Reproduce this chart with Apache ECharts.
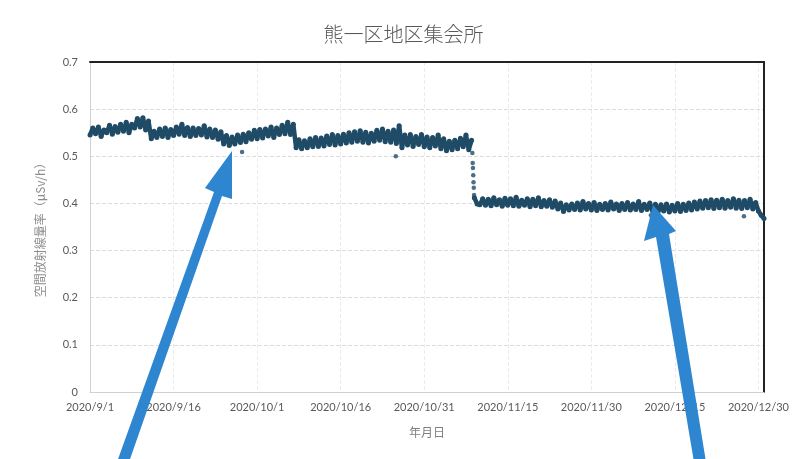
<!DOCTYPE html>
<html>
<head>
<meta charset="utf-8">
<script src="https://cdn.jsdelivr.net/npm/echarts@6/dist/echarts.min.js"></script>
<style>
html,body{margin:0;padding:0;background:#fff;}
#c{width:807px;height:459px;}
</style>
</head>
<body>
<div id="c"></div>
<script>
// ---- data (days since 2020/9/1, values in μSv/h) ----
const titleText = '熊一区地区集会所';
const yAxisName = '空間放射線量率（μSv/h）';
const xAxisName = '年月日';
const startDate = [2020, 9, 1];
const dayMax = 121;
const tickStepDays = 15;
const yTicks = [0, 0.1, 0.2, 0.3, 0.4, 0.5, 0.6, 0.7];

// before the drop: half-day samples starting at day 0
const preStart = 0;
const preValues = [
  0.545,0.560, 0.548,0.562, 0.542,0.556, 0.550,0.566, 0.547,0.563,
  0.551,0.568, 0.553,0.572, 0.550,0.568, 0.560,0.580, 0.562,0.582,
  0.556,0.575, 0.537,0.553, 0.540,0.558, 0.542,0.560, 0.540,0.557,
  0.544,0.562, 0.547,0.568, 0.544,0.561, 0.542,0.560, 0.544,0.559,
  0.545,0.565, 0.541,0.558, 0.540,0.556, 0.536,0.552, 0.526,0.544,
  0.523,0.541, 0.526,0.545, 0.529,0.547, 0.531,0.550, 0.536,0.555,
  0.537,0.557, 0.539,0.558, 0.543,0.562, 0.540,0.560, 0.546,0.566,
  0.548,0.572, 0.546,0.568, 0.518,0.535, 0.516,0.533, 0.518,0.537,
  0.520,0.540, 0.521,0.539, 0.522,0.543, 0.525,0.546, 0.524,0.544,
  0.526,0.547, 0.528,0.550, 0.530,0.552, 0.532,0.554, 0.530,0.551,
  0.528,0.549, 0.532,0.555, 0.534,0.558, 0.531,0.553, 0.530,0.556,
  0.527,0.565, 0.518,0.545, 0.524,0.546, 0.521,0.542, 0.525,0.546,
  0.520,0.541, 0.518,0.540, 0.522,0.545, 0.516,0.537, 0.512,0.532,
  0.514,0.534, 0.516,0.538, 0.520,0.545, 0.514,0.534
];

// the drop itself (individual readings)
const dropDays   = [68.65, 68.7, 68.75, 68.8, 68.85, 68.9, 68.95];
const dropValues = [0.507, 0.486, 0.475, 0.460, 0.445, 0.433, 0.418];

// after the drop: half-day samples starting at day 69
const postStart = 69;
const postValues = [
  0.412,0.399,
  0.397,0.410, 0.396,0.409, 0.395,0.412, 0.397,0.408, 0.394,0.411,
  0.396,0.410, 0.395,0.413, 0.394,0.407, 0.396,0.410, 0.393,0.409,
  0.395,0.412, 0.393,0.406, 0.394,0.408, 0.392,0.405, 0.388,0.401,
  0.383,0.397, 0.386,0.399, 0.387,0.401, 0.386,0.404, 0.388,0.400,
  0.386,0.402, 0.385,0.398, 0.387,0.400, 0.386,0.403, 0.388,0.399,
  0.385,0.400, 0.387,0.402, 0.386,0.399, 0.387,0.404, 0.385,0.398,
  0.387,0.401, 0.384,0.398, 0.383,0.397, 0.384,0.399, 0.382,0.396,
  0.384,0.400, 0.383,0.398, 0.385,0.401, 0.386,0.403, 0.388,0.405,
  0.390,0.406, 0.391,0.408, 0.389,0.407, 0.391,0.409, 0.390,0.406,
  0.392,0.410, 0.390,0.407, 0.389,0.406, 0.391,0.409, 0.388,0.402,
  0.384,0.375, 0.368
];

// isolated low readings
const outlierDays   = [27.3, 54.9, 100.7, 117.4];
const outlierValues = [0.509, 0.500, 0.375, 0.373];

// ---- build ----
function pairs(start, vals) {
  return vals.map((v, i) => [start + i * 0.5, v]);
}
function zip(xs, ys) { return xs.map((x, i) => [x, ys[i]]); }

function dayLabel(t) {
  if (t % tickStepDays !== 0) return '';
  const d = new Date(startDate[0], startDate[1] - 1, startDate[2] + t);
  return d.getFullYear() + '/' + (d.getMonth() + 1) + '/' + d.getDate();
}

const dotColor = '#1f4b66';
const font = 'Lato, "Noto Sans CJK JP", sans-serif';

const chart = echarts.init(document.getElementById('c'), null, {renderer: 'canvas'});
chart.setOption({
  animation: false,
  backgroundColor: '#ffffff',
  title: {
    text: titleText,
    left: 'center',
    top: 19,
    textStyle: {fontFamily: '"Noto Sans CJK JP", sans-serif', fontSize: 20, fontWeight: 300, color: '#595959'}
  },
  grid: {left: 90, right: 43, top: 62, bottom: 67, containLabel: false},
  xAxis: [{
    type: 'value', min: 0, max: dayMax, interval: tickStepDays,
    name: xAxisName, nameLocation: 'middle', nameGap: 34,
    nameTextStyle: {fontFamily: '"Noto Sans CJK JP", sans-serif', fontSize: 12, color: '#7f7f7f'},
    axisLine: {show: true, lineStyle: {color: '#d0d0d0', width: 1}},
    axisTick: {show: false},
    axisLabel: {formatter: dayLabel, fontFamily: font, fontSize: 11, color: '#595959', margin: 10, showMaxLabel: false},
    splitLine: {show: true, lineStyle: {color: '#ececec', type: 'dashed', width: 1}}
  }, {
    type: 'value', min: 0, max: dayMax, position: 'top',
    axisLine: {show: true, onZero: false, lineStyle: {color: '#222', width: 2}},
    axisTick: {show: false}, axisLabel: {show: false}, splitLine: {show: false}
  }],
  yAxis: [{
    type: 'value', min: yTicks[0], max: yTicks[yTicks.length - 1], interval: 0.1,
    name: yAxisName, nameLocation: 'middle', nameGap: 44,
    nameTextStyle: {fontFamily: '"Noto Sans CJK JP", sans-serif', fontSize: 12, color: '#8c8c8c'},
    axisLine: {show: true, lineStyle: {color: '#d0d0d0', width: 1}},
    axisTick: {show: false},
    axisLabel: {formatter: v => (v === 0 ? '0' : v.toFixed(1)), fontFamily: font, fontSize: 11, color: '#595959', margin: 12},
    splitLine: {show: true, lineStyle: {color: '#dcdcdc', type: 'dashed', width: 1}}
  }, {
    type: 'value', min: yTicks[0], max: yTicks[yTicks.length - 1], position: 'right',
    axisLine: {show: true, onZero: false, lineStyle: {color: '#222', width: 2}},
    axisTick: {show: false}, axisLabel: {show: false}, splitLine: {show: false}
  }],
  series: [{
    type: 'line', data: pairs(preStart, preValues),
    symbol: 'circle', symbolSize: 5, showAllSymbol: true,
    itemStyle: {color: dotColor}, lineStyle: {color: dotColor, width: 4.5}
  }, {
    type: 'line', data: pairs(postStart, postValues),
    symbol: 'circle', symbolSize: 5, showAllSymbol: true,
    itemStyle: {color: dotColor}, lineStyle: {color: dotColor, width: 4.5}
  }, {
    type: 'scatter', data: zip(dropDays, dropValues),
    symbol: 'circle', symbolSize: 4.5, itemStyle: {color: dotColor}
  }, {
    type: 'scatter', data: zip(outlierDays, outlierValues),
    symbol: 'circle', symbolSize: 4.5, itemStyle: {color: dotColor}
  }],
  graphic: [{
    type: 'polygon', z: 100,
    shape: {points: [[117, 462], [129, 462], [222, 196], [232, 199], [232, 151], [205, 188], [214, 192]]},
    style: {fill: '#2e86d1'}
  }, {
    type: 'polygon', z: 100,
    shape: {points: [[694, 462], [706, 462], [669, 234], [676, 231], [653, 205], [644, 241], [656, 237]]},
    style: {fill: '#2e86d1'}
  }]
});
</script>
</body>
</html>
